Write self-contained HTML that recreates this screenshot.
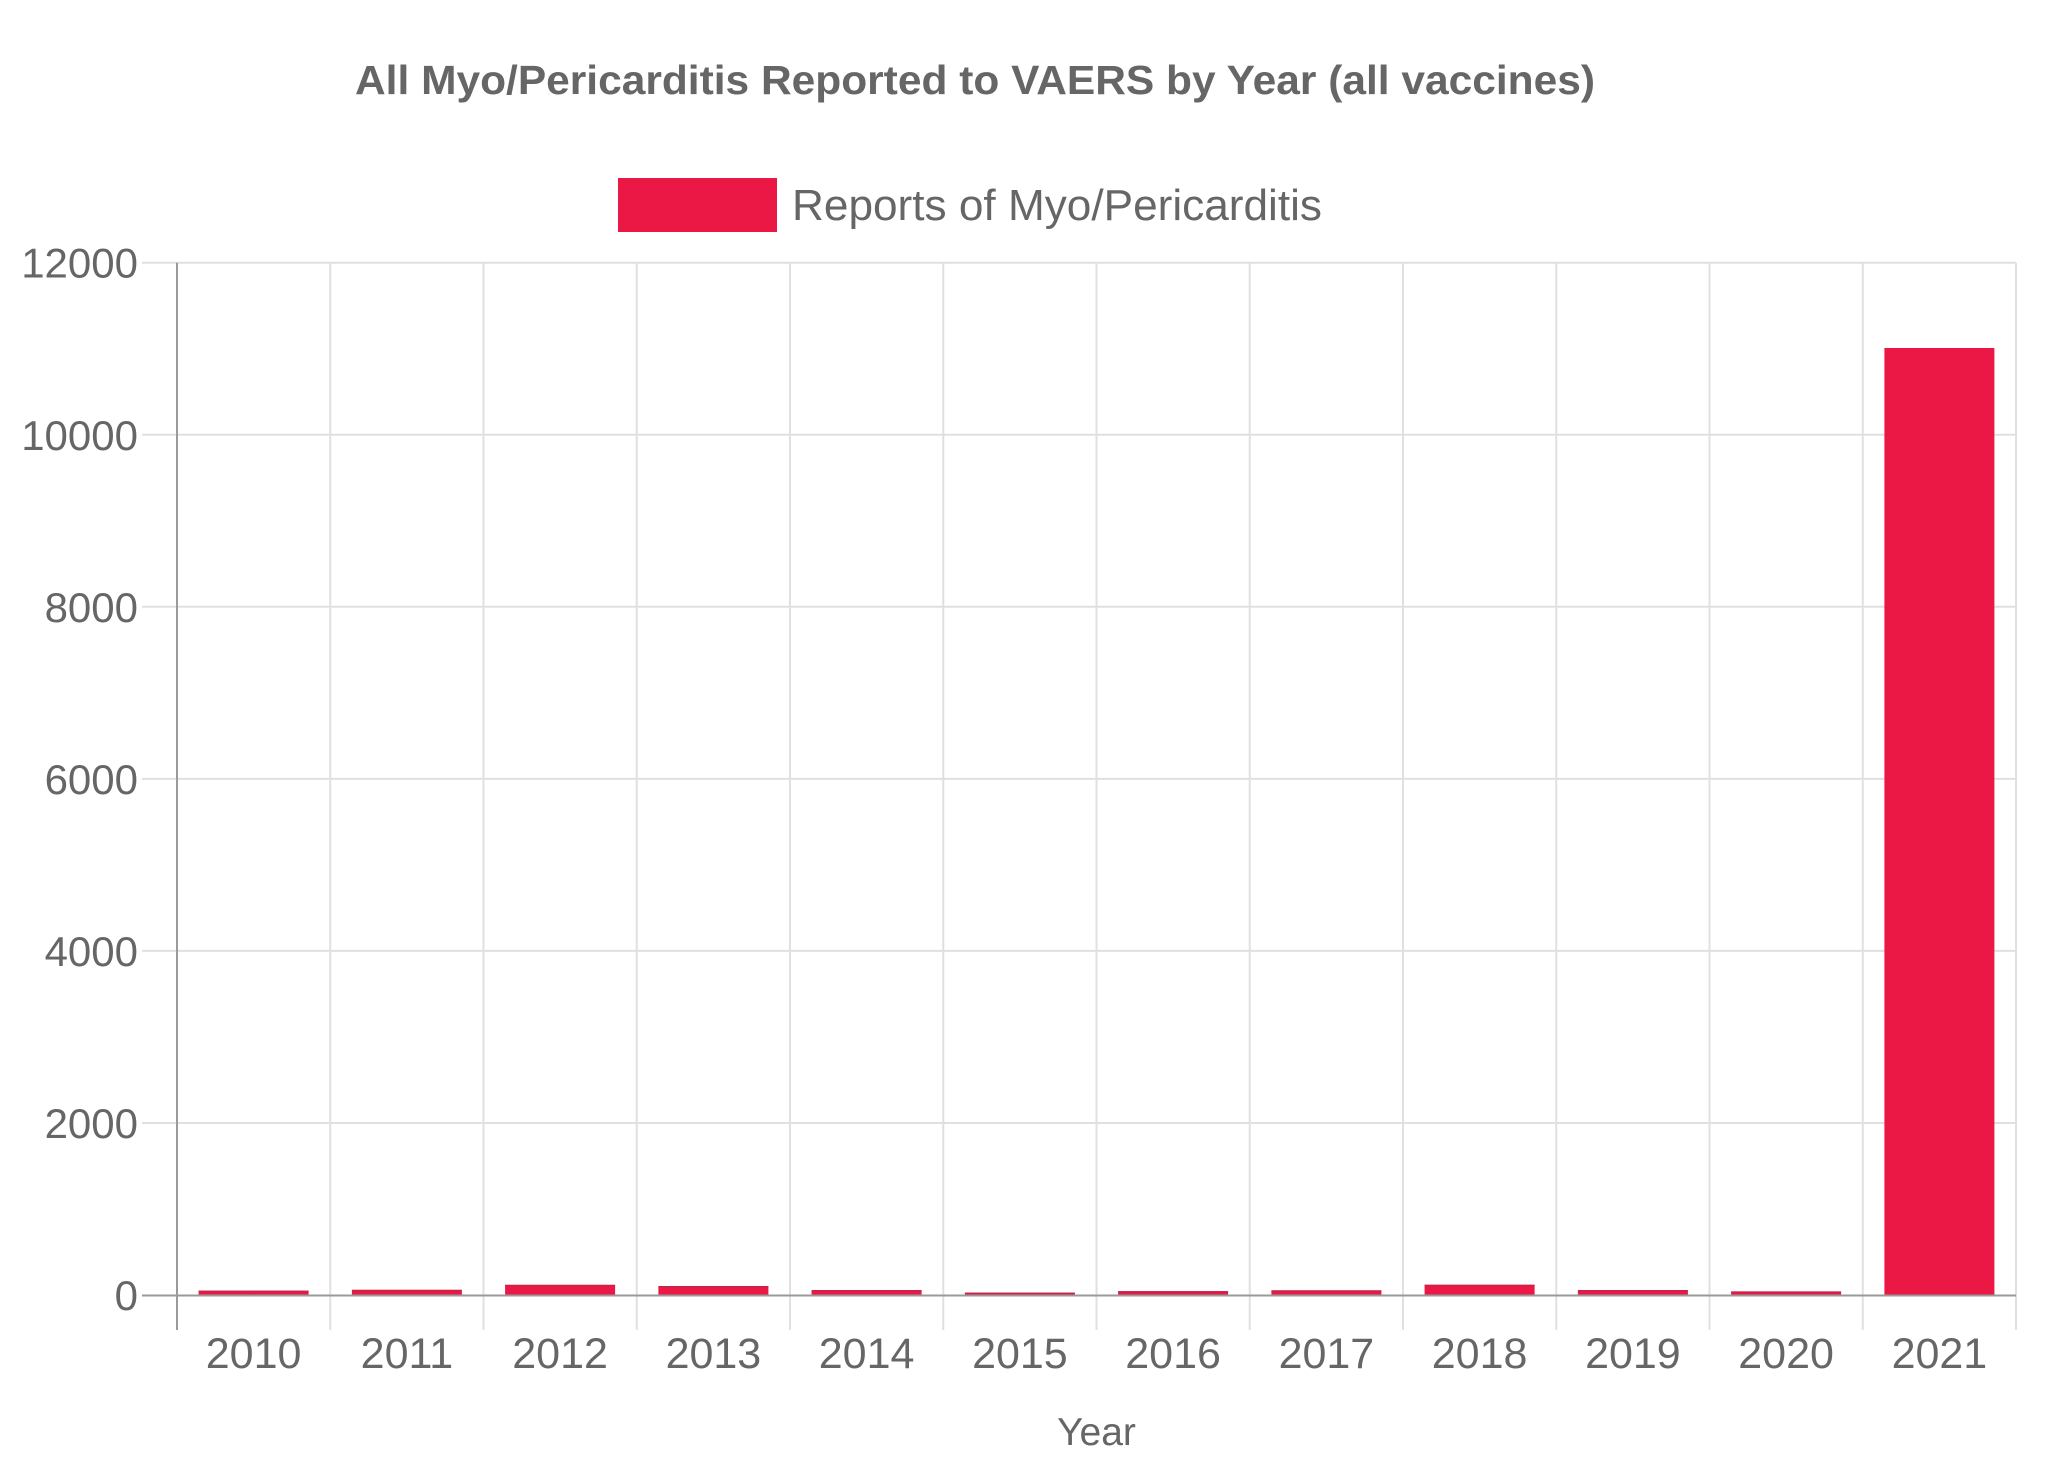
<!DOCTYPE html>
<html><head><meta charset="utf-8"><style>
html,body{margin:0;padding:0;background:#fff;}
svg{display:block;}
text{font-family:"Liberation Sans",Arial,sans-serif;fill:#666;}
</style></head><body>
<svg width="2048" height="1460" viewBox="0 0 2048 1460" xmlns="http://www.w3.org/2000/svg">
<rect x="0" y="0" width="2048" height="1460" fill="#fff"/>
<text x="355" y="94" font-size="41" font-weight="bold" textLength="1240" lengthAdjust="spacingAndGlyphs">All Myo/Pericarditis Reported to VAERS by Year (all vaccines)</text>
<rect x="618" y="178" width="159" height="54" fill="#EB1846"/>
<text x="792" y="220" font-size="44" textLength="530" lengthAdjust="spacingAndGlyphs">Reports of Myo/Pericarditis</text>
<g stroke="#e0e0e0" stroke-width="2">
<line x1="142" y1="262.7" x2="2016" y2="262.7"/>
<line x1="142" y1="434.75" x2="2016" y2="434.75"/>
<line x1="142" y1="606.8" x2="2016" y2="606.8"/>
<line x1="142" y1="778.85" x2="2016" y2="778.85"/>
<line x1="142" y1="950.9" x2="2016" y2="950.9"/>
<line x1="142" y1="1122.95" x2="2016" y2="1122.95"/>
<line x1="330.25" y1="262.7" x2="330.25" y2="1330"/>
<line x1="483.5" y1="262.7" x2="483.5" y2="1330"/>
<line x1="636.75" y1="262.7" x2="636.75" y2="1330"/>
<line x1="790" y1="262.7" x2="790" y2="1330"/>
<line x1="943.25" y1="262.7" x2="943.25" y2="1330"/>
<line x1="1096.5" y1="262.7" x2="1096.5" y2="1330"/>
<line x1="1249.75" y1="262.7" x2="1249.75" y2="1330"/>
<line x1="1403" y1="262.7" x2="1403" y2="1330"/>
<line x1="1556.25" y1="262.7" x2="1556.25" y2="1330"/>
<line x1="1709.5" y1="262.7" x2="1709.5" y2="1330"/>
<line x1="1862.75" y1="262.7" x2="1862.75" y2="1330"/>
<line x1="2016" y1="262.7" x2="2016" y2="1330"/>
</g>
<g fill="#EB1846">
<rect x="198.6" y="1290.6" width="110" height="4.4"/>
<rect x="351.9" y="1289.8" width="110" height="5.2"/>
<rect x="505.1" y="1284.8" width="110" height="10.2"/>
<rect x="658.4" y="1286" width="110" height="9"/>
<rect x="811.6" y="1290" width="110" height="5"/>
<rect x="964.9" y="1292.6" width="110" height="2.4"/>
<rect x="1118.1" y="1291.1" width="110" height="3.9"/>
<rect x="1271.4" y="1290.3" width="110" height="4.7"/>
<rect x="1424.6" y="1284.7" width="110" height="10.3"/>
<rect x="1577.9" y="1290" width="110" height="5"/>
<rect x="1731.1" y="1291.4" width="110" height="3.6"/>
<rect x="1884.4" y="348" width="110" height="947"/>
</g>
<g fill="#b8294a" opacity="0.7">
<rect x="198.6" y="1290.6" width="110" height="1.5"/>
<rect x="351.9" y="1289.8" width="110" height="1.5"/>
<rect x="505.1" y="1284.8" width="110" height="1.5"/>
<rect x="658.4" y="1286" width="110" height="1.5"/>
<rect x="811.6" y="1290" width="110" height="1.5"/>
<rect x="964.9" y="1292.6" width="110" height="1.5"/>
<rect x="1118.1" y="1291.1" width="110" height="1.5"/>
<rect x="1271.4" y="1290.3" width="110" height="1.5"/>
<rect x="1424.6" y="1284.7" width="110" height="1.5"/>
<rect x="1577.9" y="1290" width="110" height="1.5"/>
<rect x="1731.1" y="1291.4" width="110" height="1.5"/>
</g>
<g stroke="#9a9a9a" stroke-width="2">
<line x1="177" y1="262.7" x2="177" y2="1330"/>
<line x1="142" y1="1295.5" x2="2016" y2="1295.5"/>
</g>
<g font-size="42" text-anchor="end">
<text x="138" y="277.7">12000</text>
<text x="138" y="449.75">10000</text>
<text x="138" y="621.8">8000</text>
<text x="138" y="793.85">6000</text>
<text x="138" y="965.9">4000</text>
<text x="138" y="1137.95">2000</text>
<text x="138" y="1310">0</text>
</g>
<g font-size="43" text-anchor="middle">
<text x="253.6" y="1368">2010</text>
<text x="406.9" y="1368">2011</text>
<text x="560.1" y="1368">2012</text>
<text x="713.4" y="1368">2013</text>
<text x="866.6" y="1368">2014</text>
<text x="1019.9" y="1368">2015</text>
<text x="1173.1" y="1368">2016</text>
<text x="1326.4" y="1368">2017</text>
<text x="1479.6" y="1368">2018</text>
<text x="1632.9" y="1368">2019</text>
<text x="1786.1" y="1368">2020</text>
<text x="1939.4" y="1368">2021</text>
</g>
<text x="1096.5" y="1445" font-size="39" text-anchor="middle">Year</text>
</svg>
</body></html>
